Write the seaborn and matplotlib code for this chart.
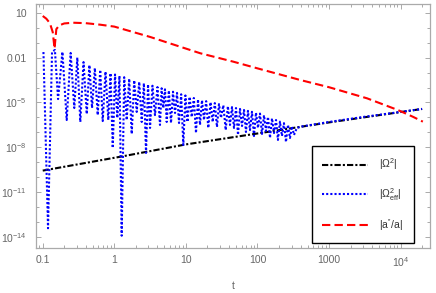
import matplotlib
matplotlib.use("Agg")
import matplotlib.pyplot as plt
from matplotlib.ticker import FixedLocator, NullFormatter
import numpy as np
import pandas as pd
import seaborn as sns

# log10(t) and log10(value)
omega_lt = [-1.0, 0.11, 1.0, 2.0, 3.0, 4.3]
omega_ly = [-9.55, -8.6, -7.8, -7.07, -6.33, -5.43]

eff_lt = [-0.99, -0.926, -0.87, -0.83, -0.786, -0.725, -0.665, -0.61, -0.559, -0.517,
          -0.475, -0.43, -0.385, -0.348, -0.311, -0.272, -0.232, -0.197, -0.162, -0.123,
          -0.084, -0.053, -0.022, 0.01, 0.042, 0.072, 0.103, 0.138, 0.173, 0.208,
          0.243, 0.278, 0.313, 0.348, 0.383, 0.413, 0.443, 0.471, 0.499, 0.533,
          0.568, 0.603, 0.638, 0.661, 0.684, 0.708, 0.732, 0.762, 0.792, 0.82,
          0.848, 0.876, 0.904, 0.934, 0.964, 0.993, 1.022, 1.052, 1.081, 1.111,
          1.141, 1.169, 1.197, 1.225, 1.253, 1.283, 1.313, 1.344, 1.374, 1.404,
          1.434, 1.462, 1.49, 1.523, 1.556, 1.586, 1.616, 1.644, 1.672, 1.7,
          1.728, 1.756, 1.784, 1.812, 1.839, 1.867, 1.895, 1.923, 1.951, 1.979,
          2.007, 2.035, 2.063, 2.091, 2.119, 2.147, 2.175, 2.203, 2.231, 2.259,
          2.286, 2.314, 2.342, 2.37, 2.398, 2.426, 2.454, 2.482, 2.51, 2.55,
          2.62, 3.0, 3.5, 4.0, 4.3]
eff_ly = [-1.63, -13.4, -1.62, -1.49, -4.77, -1.62, -6.17, -1.69, -5.37, -2.0,
          -6.3, -2.3, -5.77, -2.5, -5.37, -2.7, -5.84, -2.82, -6.24, -2.94,
          -6.17, -3.04, -8.04, -3.13, -6.03, -3.22, -13.9, -3.31, -6.17, -3.41,
          -7.1, -3.52, -5.63, -3.62, -6.3, -3.71, -8.37, -3.79, -6.7, -3.88,
          -5.84, -3.97, -6.5, -4.05, -5.37, -4.12, -6.3, -4.2, -6.37, -4.28,
          -5.7, -4.36, -6.37, -4.45, -7.84, -4.53, -6.3, -4.62, -5.97, -4.7,
          -7.04, -4.79, -6.5, -4.85, -6.17, -4.91, -6.7, -4.98, -6.3, -5.04,
          -6.64, -5.11, -6.03, -5.18, -6.84, -5.25, -6.5, -5.31, -6.7, -5.37,
          -7.17, -5.43, -6.57, -5.5, -6.97, -5.56, -6.84, -5.62, -7.24, -5.68,
          -6.7, -5.74, -7.1, -5.85, -6.9, -5.96, -7.37, -6.06, -7.04, -6.17,
          -7.5, -6.28, -7.24, -6.38, -7.64, -6.49, -7.37, -6.59, -7.17, -6.7,
          -6.6, -6.3, -5.95, -5.63, -5.43]

app_lt = [-1.0, -0.95, -0.9, -0.86, -0.835, -0.81, -0.77, -0.7, -0.58, -0.4,
          -0.2, 0.0, 0.5, 1.2, 1.66, 2.0, 2.6, 3.0, 3.53, 3.96, 4.17, 4.31]
app_ly = [0.78, 0.6, 0.3, -0.3, -1.4, -0.1, 0.15, 0.28, 0.33, 0.3,
          0.2, 0.07, -0.62, -1.71, -2.27, -2.72, -3.5, -3.98, -4.72, -5.5, -5.95, -6.28]

labels = [r"$|\Omega^2|$", r"$|\Omega^2_{\rm eff}|$", r"$|a''/a|$"]
colors = ["black", "#0000ff", "#ff0000"]

sns.set_style("ticks")
plt.rcParams['font.family'] = ['Liberation Sans', 'DejaVu Sans']
plt.rcParams['mathtext.fontset'] = 'custom'
plt.rcParams['mathtext.rm'] = 'Liberation Sans'
plt.rcParams['mathtext.it'] = 'Liberation Sans'
plt.rcParams['mathtext.default'] = 'regular'

fig = plt.figure(figsize=(4.36, 2.93), dpi=100)
ax = fig.add_axes([36 / 436, 1 - 248 / 293, 394 / 436, 244 / 293])

series = [(omega_lt, omega_ly), (eff_lt, eff_ly), (app_lt, app_ly)]
styles = [(0, (3, 1, 1, 1)), (0, (1, 1)), (0, (4, 2))]
for (lt, ly), lab, col, ls in zip(series, labels, colors, styles):
    df = pd.DataFrame({'t': 10.0 ** np.array(lt), 'v': 10.0 ** np.array(ly)})
    sns.lineplot(data=df, x='t', y='v', ax=ax, color=col, label=lab, sort=False,
                 estimator=None, linewidth=1.5, linestyle=ls)

ax.set_xscale('log')
ax.set_yscale('log')
ax.set_xlim(10 ** -1.094, 10 ** 4.41)
ax.set_ylim(10 ** -14.72, 10 ** 1.58)

gray = '#666666'
ax.xaxis.set_major_locator(FixedLocator([0.1, 1, 10, 100, 1000, 1e4]))
ax.set_xticklabels(["0.1", "1", "10", "100", "1000", r"$10^4$"])
xminor = [m * 10.0 ** e for e in range(-2, 5) for m in range(2, 10)]
ax.xaxis.set_minor_locator(FixedLocator(xminor))
ax.xaxis.set_minor_formatter(NullFormatter())
ax.yaxis.set_major_locator(FixedLocator([10, 1e-2, 1e-5, 1e-8, 1e-11, 1e-14]))
ax.set_yticklabels(["10", "0.01", r"$10^{-5}$", r"$10^{-8}$", r"$10^{-11}$", r"$10^{-14}$"])
ax.yaxis.set_minor_locator(FixedLocator([10.0 ** e for e in range(-15, 2)]))
ax.yaxis.set_minor_formatter(NullFormatter())

ax.tick_params(which='both', direction='in', top=True, right=True, color='#aaaaaa',
               labelcolor=gray, labelsize=7.5, width=0.7)
ax.tick_params(which='major', length=3.5)
ax.tick_params(which='minor', length=2)
ax.tick_params(axis='y', which='both', pad=6.5)
ax.tick_params(axis='x', which='both', pad=5)
for sp in ax.spines.values():
    sp.set_color('#aaaaaa')
    sp.set_linewidth(0.9)

ax.set_xlabel("t", color=gray, fontsize=7.5, labelpad=9)
ax.set_ylabel("")

leg = ax.legend(loc='upper left', bbox_to_anchor=(311.5 / 436, 1 - 146 / 293),
                bbox_transform=fig.transFigure, fontsize=7.5, frameon=True,
                fancybox=False, edgecolor='black', framealpha=1, handlelength=4.4,
                handletextpad=1.1, labelspacing=1.35, borderpad=1.0, borderaxespad=0)
leg.get_frame().set_linewidth(1.0)
for txt in leg.get_texts():
    txt.set_color('#333333')

fig.savefig("out.png", dpi=100)
